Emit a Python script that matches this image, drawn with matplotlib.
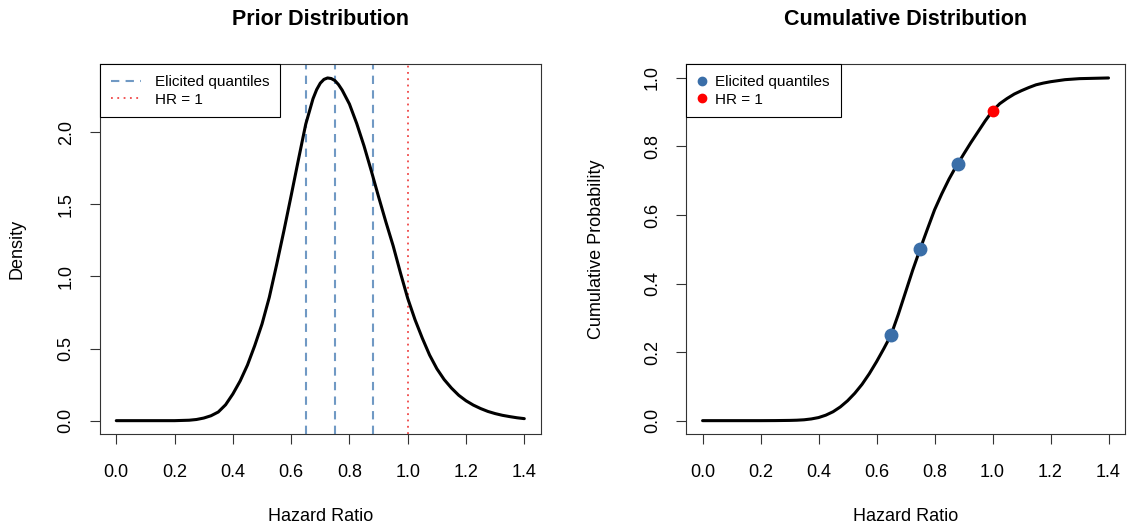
import matplotlib
matplotlib.use("Agg")
import matplotlib.pyplot as plt
from matplotlib.lines import Line2D

plt.rcParams['font.family'] = ['Liberation Sans', 'DejaVu Sans']

# prior density of the hazard ratio
hr_dens = [0.0, 0.1, 0.2, 0.25, 0.275, 0.300, 0.325, 0.350, 0.375, 0.400, 0.425,
           0.450, 0.475, 0.500, 0.525, 0.550, 0.575, 0.600, 0.625, 0.650, 0.675,
           0.6875, 0.700, 0.7125, 0.725, 0.7375, 0.750, 0.7625, 0.775, 0.800,
           0.825, 0.850, 0.875, 0.900, 0.925, 0.950, 0.975, 1.000, 1.025, 1.050,
           1.075, 1.100, 1.125, 1.150, 1.175, 1.200, 1.225, 1.250, 1.275, 1.300,
           1.325, 1.350, 1.375, 1.400]
density = [0.0, 0.0, 0.0, 0.003, 0.008, 0.018, 0.034, 0.060, 0.110, 0.185, 0.275,
           0.385, 0.520, 0.670, 0.855, 1.080, 1.315, 1.560, 1.810, 2.055, 2.232,
           2.295, 2.340, 2.366, 2.376, 2.372, 2.358, 2.330, 2.292, 2.195,
           2.060, 1.905, 1.732, 1.552, 1.378, 1.212, 1.025, 0.848, 0.700, 0.572,
           0.455, 0.360, 0.285, 0.226, 0.176, 0.138, 0.108, 0.084, 0.064, 0.049,
           0.037, 0.028, 0.020, 0.014]

# cumulative distribution
hr_cdf = [0.0, 0.1, 0.2, 0.25, 0.300, 0.325, 0.350, 0.375, 0.400, 0.425, 0.450,
          0.475, 0.500, 0.525, 0.550, 0.575, 0.600, 0.625, 0.650, 0.675, 0.700,
          0.725, 0.750, 0.775, 0.800, 0.825, 0.850, 0.875, 0.880, 0.900, 0.925,
          0.950, 0.975, 1.000, 1.025, 1.050, 1.075, 1.100, 1.125, 1.150, 1.175,
          1.200, 1.250, 1.300, 1.350, 1.400]
cum_prob = [0.0, 0.0, 0.0, 0.0002, 0.0007, 0.0013, 0.0025, 0.005, 0.009, 0.016, 0.026,
            0.040, 0.058, 0.080, 0.106, 0.137, 0.172, 0.210, 0.250, 0.310, 0.375,
            0.440, 0.500, 0.558, 0.615, 0.662, 0.705, 0.743, 0.749, 0.777, 0.811,
            0.843, 0.875, 0.904, 0.925, 0.940, 0.953, 0.963, 0.972, 0.980, 0.985,
            0.989, 0.995, 0.998, 0.999, 1.0]

quantile_hr = [0.65, 0.75, 0.88]
quantile_prob = [0.25, 0.50, 0.75]
hr_null = 1.0
prob_null = 0.904

x_ticks = [0.0, 0.2, 0.4, 0.6, 0.8, 1.0, 1.2, 1.4]

q_line_col = "#7099c4"
q_pt_col = "#3a6ea8"
red_line = "#f04848"

fig = plt.figure(figsize=(11.27, 5.31), dpi=100)
ax1 = fig.add_axes([0.0887, 0.182, 0.391, 0.697])
ax2 = fig.add_axes([0.609, 0.182, 0.389, 0.697])


def estilo(ax, yticks):
    ax.set_xlim(-0.056, 1.456)
    ax.set_xticks(x_ticks)
    ax.set_xticklabels([f"{v:.1f}" for v in x_ticks])
    ax.set_yticks(yticks)
    ax.set_yticklabels([f"{v:.1f}" for v in yticks], rotation=90, va="center")
    ax.tick_params(axis="both", direction="out", length=7.2, width=0.8,
                   labelsize=13, color="#333333")
    ax.tick_params(axis="x", pad=14)
    ax.tick_params(axis="y", pad=11)
    for s in ax.spines.values():
        s.set_linewidth(0.8)
        s.set_color("#333333")


# left panel: density
ax1.plot(hr_dens, density, color="black", lw=2.2, zorder=3,
         solid_joinstyle="round", solid_capstyle="round")
for q in quantile_hr:
    ax1.axvline(q, color=q_line_col, lw=1.5, linestyle=(0, (4, 3)), zorder=2)
ax1.axvline(hr_null, color=red_line, lw=1.3, linestyle=(0, (1, 2.5)), zorder=2)
ax1.set_ylim(-0.095, 2.471)
estilo(ax1, [0.0, 0.5, 1.0, 1.5, 2.0])
ax1.set_title("Prior Distribution", fontsize=15.5, fontweight="bold", pad=28)
ax1.set_xlabel("Hazard Ratio", fontsize=13)
ax1.set_ylabel("Density", fontsize=13)
ax1.xaxis.set_label_coords(0.5, -0.2)
ax1.yaxis.set_label_coords(-0.17, 0.5)

h1 = [Line2D([], [], color=q_line_col, lw=1.5, linestyle=(0, (4, 3))),
      Line2D([], [], color=red_line, lw=1.3, linestyle=(0, (1, 2.5)))]
leg1 = ax1.legend(h1, ["Elicited quantiles", "HR = 1"], loc="upper left",
                  bbox_to_anchor=(0, 1), borderaxespad=0, fontsize=11,
                  fancybox=False, framealpha=1, edgecolor="black",
                  handlelength=2.0, handletextpad=0.9, borderpad=0.7,
                  labelspacing=0.25)
leg1.get_frame().set_linewidth(0.8)

# right panel: cumulative
ax2.plot(hr_cdf, cum_prob, color="black", lw=2.2, zorder=3,
         solid_joinstyle="round", solid_capstyle="round")
ax2.plot(quantile_hr, quantile_prob, "o", color=q_pt_col, ms=9, zorder=4)
ax2.plot([hr_null], [prob_null], "o", color="red", ms=7.5, zorder=4)
ax2.set_ylim(-0.04, 1.04)
estilo(ax2, [0.0, 0.2, 0.4, 0.6, 0.8, 1.0])
ax2.set_title("Cumulative Distribution", fontsize=15.5, fontweight="bold", pad=28)
ax2.set_xlabel("Hazard Ratio", fontsize=13)
ax2.set_ylabel("Cumulative Probability", fontsize=13)
ax2.xaxis.set_label_coords(0.5, -0.2)
ax2.yaxis.set_label_coords(-0.186, 0.5)

h2 = [Line2D([], [], color=q_pt_col, marker="o", ms=6, lw=0),
      Line2D([], [], color="red", marker="o", ms=6, lw=0)]
leg2 = ax2.legend(h2, ["Elicited quantiles", "HR = 1"], loc="upper left",
                  bbox_to_anchor=(0, 1), borderaxespad=0, fontsize=11,
                  fancybox=False, framealpha=1, edgecolor="black",
                  handlelength=0.6, handletextpad=0.6, borderpad=0.7,
                  labelspacing=0.25)
leg2.get_frame().set_linewidth(0.8)

fig.savefig("out.png", dpi=100)
